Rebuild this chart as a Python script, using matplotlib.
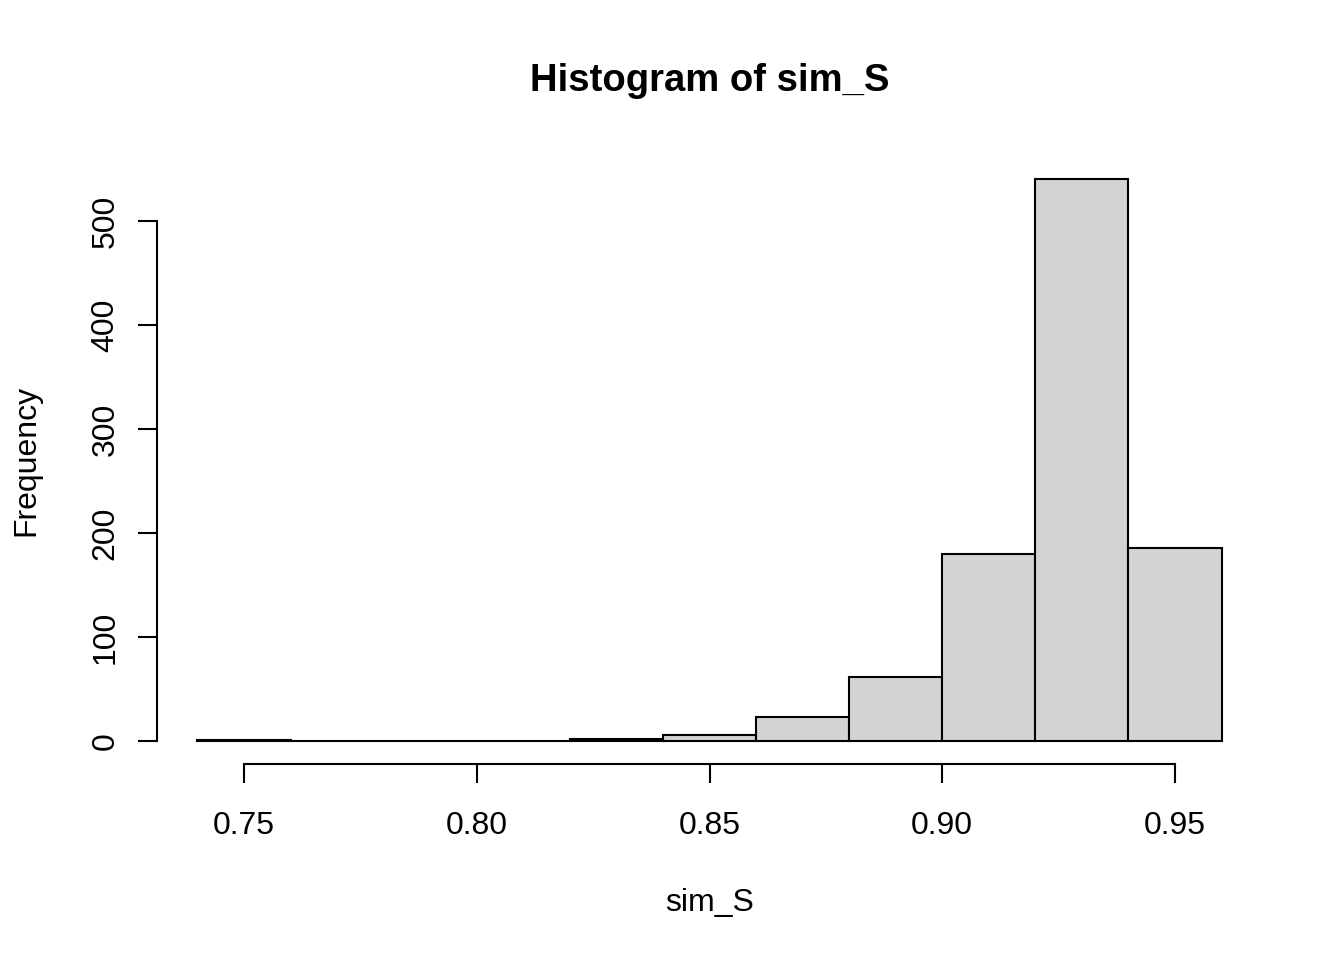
import matplotlib.pyplot as plt
import numpy as np

plt.rcParams['font.family'] = ['Liberation Sans', 'DejaVu Sans']

# histogram of sim_S, bin edges and counts
edges = [0.74, 0.76, 0.78, 0.80, 0.82, 0.84, 0.86, 0.88, 0.90, 0.92, 0.94, 0.96]
counts = [1, 0, 0, 0, 2, 6, 23, 62, 180, 540, 186]
xticks = [0.75, 0.80, 0.85, 0.90, 0.95]
yticks = [0, 100, 200, 300, 400, 500]

fig = plt.figure(figsize=(13.44, 9.6), dpi=100)
ax = fig.add_axes([156.5 / 1344, 1 - 763.5 / 960, 1106 / 1344, 606.5 / 960])

lefts = np.array(edges[:-1])
widths = np.diff(edges)
ax.bar(lefts, counts, width=widths, align='edge', color='#d3d3d3',
       edgecolor='black', linewidth=1.5)

xr = edges[-1] - edges[0]
ax.set_xlim(edges[0] - 0.04 * xr, edges[-1] + 0.04 * xr)
ymax = max(counts)
ax.set_ylim(-0.04 * ymax, ymax * 1.04)

for s in ['top', 'right']:
    ax.spines[s].set_visible(False)
ax.spines['left'].set_bounds(yticks[0], yticks[-1])
ax.spines['bottom'].set_bounds(xticks[0], xticks[-1])
ax.spines['left'].set_linewidth(1.5)
ax.spines['bottom'].set_linewidth(1.5)

ax.set_xticks(xticks)
ax.set_xticklabels(['%.2f' % v for v in xticks])
ax.set_yticks(yticks)
ax.set_yticklabels([str(v) for v in yticks], rotation=90, va='center')
ax.tick_params(axis='both', length=14, width=1.5, labelsize=23)
ax.tick_params(axis='x', pad=20)
ax.tick_params(axis='y', pad=12)

ax.set_xlabel('sim_S', fontsize=23, labelpad=34)
ax.set_ylabel('Frequency', fontsize=23, labelpad=35)
fig.text(0.528, 1 - 81 / 960, 'Histogram of sim_S', fontsize=27.5, fontweight='bold',
         ha='center', va='center')

fig.savefig('out.png', dpi=100)
